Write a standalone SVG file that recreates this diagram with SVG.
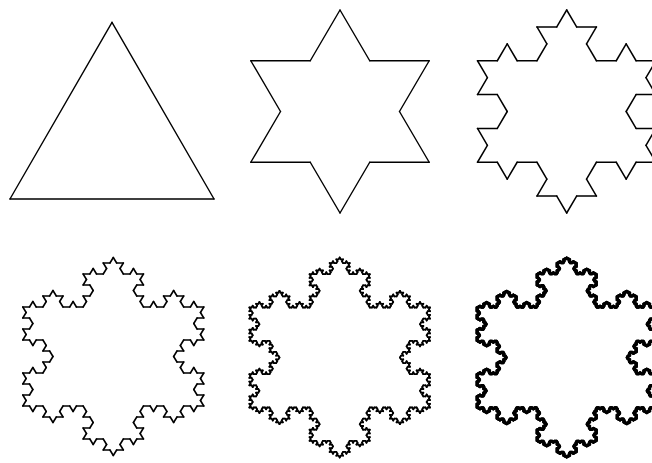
<svg xmlns="http://www.w3.org/2000/svg" width="652" height="463" viewBox="0 0 652 463">
<style>
.seg{fill:none;stroke:#000;vector-effect:non-scaling-stroke;stroke-linecap:round;stroke-linejoin:round}
</style>
<defs>
<path id="k0" class="seg" d="M0,0 L1,0"/>
<g id="k1"><use href="#k0" transform="scale(0.3333333)"/><use href="#k0" transform="translate(0.3333333,0) rotate(-60) scale(0.3333333)"/><use href="#k0" transform="translate(0.5,-0.2886751) rotate(60) scale(0.3333333)"/><use href="#k0" transform="translate(0.6666667,0) scale(0.3333333)"/></g>
<g id="k2"><use href="#k1" transform="scale(0.3333333)"/><use href="#k1" transform="translate(0.3333333,0) rotate(-60) scale(0.3333333)"/><use href="#k1" transform="translate(0.5,-0.2886751) rotate(60) scale(0.3333333)"/><use href="#k1" transform="translate(0.6666667,0) scale(0.3333333)"/></g>
<g id="k3"><use href="#k2" transform="scale(0.3333333)"/><use href="#k2" transform="translate(0.3333333,0) rotate(-60) scale(0.3333333)"/><use href="#k2" transform="translate(0.5,-0.2886751) rotate(60) scale(0.3333333)"/><use href="#k2" transform="translate(0.6666667,0) scale(0.3333333)"/></g>
<g id="k4"><use href="#k3" transform="scale(0.3333333)"/><use href="#k3" transform="translate(0.3333333,0) rotate(-60) scale(0.3333333)"/><use href="#k3" transform="translate(0.5,-0.2886751) rotate(60) scale(0.3333333)"/><use href="#k3" transform="translate(0.6666667,0) scale(0.3333333)"/></g>
<g id="k5"><use href="#k4" transform="scale(0.3333333)"/><use href="#k4" transform="translate(0.3333333,0) rotate(-60) scale(0.3333333)"/><use href="#k4" transform="translate(0.5,-0.2886751) rotate(60) scale(0.3333333)"/><use href="#k4" transform="translate(0.6666667,0) scale(0.3333333)"/></g>
<g id="f0"><use href="#k0" transform="translate(0,-1) rotate(60) scale(1.7320508)"/><use href="#k0" transform="translate(0.8660254,0.5) rotate(180) scale(1.7320508)"/><use href="#k0" transform="translate(-0.8660254,0.5) rotate(-60) scale(1.7320508)"/></g>
<g id="f1"><use href="#k1" transform="translate(0,-1) rotate(60) scale(1.7320508)"/><use href="#k1" transform="translate(0.8660254,0.5) rotate(180) scale(1.7320508)"/><use href="#k1" transform="translate(-0.8660254,0.5) rotate(-60) scale(1.7320508)"/></g>
<g id="f2"><use href="#k2" transform="translate(0,-1) rotate(60) scale(1.7320508)"/><use href="#k2" transform="translate(0.8660254,0.5) rotate(180) scale(1.7320508)"/><use href="#k2" transform="translate(-0.8660254,0.5) rotate(-60) scale(1.7320508)"/></g>
<g id="f3"><use href="#k3" transform="translate(0,-1) rotate(60) scale(1.7320508)"/><use href="#k3" transform="translate(0.8660254,0.5) rotate(180) scale(1.7320508)"/><use href="#k3" transform="translate(-0.8660254,0.5) rotate(-60) scale(1.7320508)"/></g>
<g id="f4"><use href="#k4" transform="translate(0,-1) rotate(60) scale(1.7320508)"/><use href="#k4" transform="translate(0.8660254,0.5) rotate(180) scale(1.7320508)"/><use href="#k4" transform="translate(-0.8660254,0.5) rotate(-60) scale(1.7320508)"/></g>
<g id="f5"><use href="#k5" transform="translate(0,-1) rotate(60) scale(1.7320508)"/><use href="#k5" transform="translate(0.8660254,0.5) rotate(180) scale(1.7320508)"/><use href="#k5" transform="translate(-0.8660254,0.5) rotate(-60) scale(1.7320508)"/></g>
</defs>
<rect width="652" height="463" fill="#fff"/>
<g id="stage0" stroke-width="1.4" transform="translate(112,140.1) scale(117.8,117.8)"><use href="#f0"/></g>
<g id="stage1" stroke-width="1.4" transform="translate(340,111.5) scale(103,101.5)"><use href="#f1"/></g>
<g id="stage2" stroke-width="1.5" transform="translate(566.7,111.5) scale(103,101.5)"><use href="#f2"/></g>
<g id="stage3" stroke-width="1.6" transform="translate(113.3,356.5) scale(104.5,99)"><use href="#f3"/></g>
<g id="stage4" stroke-width="1.8" transform="translate(339.7,357.5) scale(104.3,100)"><use href="#f4"/></g>
<g id="stage5" stroke-width="2.3" transform="translate(566.7,357.5) scale(104,100)"><use href="#f5"/></g>
</svg>
